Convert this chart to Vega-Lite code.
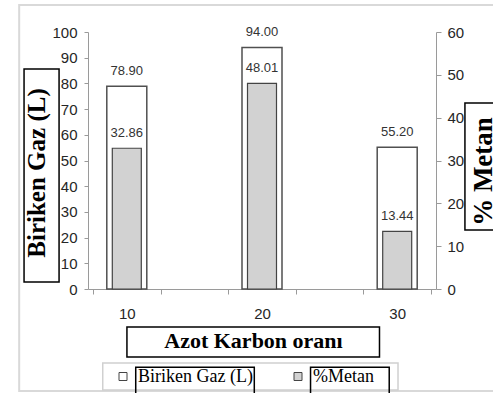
{
  "$schema": "https://vega.github.io/schema/vega-lite/v6.json",
  "width": 348,
  "height": 257,
  "autosize": "none",
  "padding": {"left": 88, "top": 32, "right": 57, "bottom": 104},
  "background": "white",
  "config": {"view": {"stroke": null}},
  "data": {
    "values": [
      {"oran": 10, "gaz": 78.90, "metan": 32.86},
      {"oran": 20, "gaz": 94.00, "metan": 48.01},
      {"oran": 30, "gaz": 55.20, "metan": 13.44}
    ]
  },
  "layer": [
    {
      "encoding": {
        "x": {
          "field": "oran",
          "type": "quantitative",
          "scale": {"domain": [7.5, 32.5], "nice": false, "zero": false},
          "axis": {
            "values": [7.5, 10, 12.5, 17.5, 20, 22.5, 27.5, 30, 32.5],
            "labelExpr": "datum.value % 10 === 0 ? datum.label : ''",
            "tickOpacity": {"condition": {"test": "datum.value % 10 === 0", "value": 0}, "value": 1},
            "tickSize": 5,
            "tickColor": "#9a9a9a",
            "domainColor": "#9a9a9a",
            "labelFont": "Liberation Sans",
            "labelFontSize": 15,
            "labelColor": "#262626",
            "labelPadding": 12,
            "labelOverlap": false,
            "grid": false,
            "title": "Azot Karbon oranı",
            "titleFont": "Liberation Serif",
            "titleFontSize": 22,
            "titleFontWeight": "bold",
            "titleColor": "black",
            "titleX": 165,
            "titleY": 58,
            "titleAlign": "center",
            "titleBaseline": "alphabetic"
          }
        },
        "y": {
          "field": "gaz",
          "type": "quantitative",
          "scale": {"domain": [0, 100], "nice": false},
          "axis": {
            "orient": "left",
            "values": [0, 10, 20, 30, 40, 50, 60, 70, 80, 90, 100],
            "tickSize": 4,
            "tickColor": "#9a9a9a",
            "domainColor": "#9a9a9a",
            "labelFont": "Liberation Sans",
            "labelFontSize": 15,
            "labelColor": "#262626",
            "labelPadding": 7,
            "labelOverlap": false,
            "grid": false,
            "title": "Biriken Gaz (L)",
            "titleFont": "Liberation Serif",
            "titleFontSize": 25,
            "titleFontWeight": "bold",
            "titleColor": "black",
            "titleAngle": -90,
            "titleX": -44,
            "titleY": 140.5,
            "titleAlign": "center",
            "titleBaseline": "alphabetic"
          }
        }
      },
      "layer": [
        {
          "mark": {"type": "bar", "width": 40, "stroke": "#505050", "strokeWidth": 1.5},
          "encoding": {
            "color": {
              "datum": "Biriken Gaz (L)",
              "type": "nominal",
              "scale": {"domain": ["Biriken Gaz (L)", "%Metan"], "range": ["#ffffff", "#d2d2d2"]},
              "legend": {
                "orient": "none",
                "legendX": 26,
                "legendY": 335.5,
                "direction": "horizontal",
                "title": null,
                "padding": 0,
                "symbolType": "square",
                "symbolSize": 64,
                "symbolStrokeColor": "#444444",
                "symbolStrokeWidth": 1,
                "labelFont": "Liberation Serif",
                "labelFontSize": 18,
                "labelColor": "black",
                "labelOffset": 6,
                "labelLimit": 300,
                "columnPadding": 36
              }
            }
          }
        },
        {
          "mark": {"type": "text", "font": "Liberation Sans", "fontSize": 13, "color": "#333333", "baseline": "alphabetic", "align": "center", "dy": -11},
          "encoding": {"text": {"field": "gaz", "type": "quantitative", "format": ".2f"}}
        }
      ]
    },
    {
      "encoding": {
        "x": {"field": "oran", "type": "quantitative", "title": "Azot Karbon oranı"},
        "y": {
          "field": "metan",
          "type": "quantitative",
          "scale": {"domain": [0, 60], "nice": false},
          "axis": {
            "orient": "right",
            "values": [0, 10, 20, 30, 40, 50, 60],
            "tickSize": 5,
            "tickColor": "#9a9a9a",
            "domainColor": "#9a9a9a",
            "labelFont": "Liberation Sans",
            "labelFontSize": 15,
            "labelColor": "#262626",
            "labelPadding": 6,
            "grid": false,
            "title": "% Metan",
            "titleFont": "Liberation Serif",
            "titleFontSize": 27,
            "titleFontWeight": "bold",
            "titleColor": "black",
            "titleAngle": -90,
            "titleX": 55,
            "titleY": 139,
            "titleAlign": "center",
            "titleBaseline": "alphabetic"
          }
        }
      },
      "layer": [
        {
          "mark": {"type": "bar", "width": 29, "stroke": "#444444", "strokeWidth": 1.2},
          "encoding": {"color": {"datum": "%Metan", "type": "nominal"}}
        },
        {
          "mark": {"type": "text", "font": "Liberation Sans", "fontSize": 13, "color": "#333333", "baseline": "alphabetic", "align": "center", "dy": -11},
          "encoding": {"text": {"field": "metan", "type": "quantitative", "format": ".2f"}}
        }
      ]
    },
    {
      "data": {"values": [{"id": 1}]},
      "layer": [
        {
          "mark": {"type": "rect", "filled": false, "stroke": "#d9d9d9", "strokeWidth": 2},
          "encoding": {
            "x": {"datum": 2.04, "type": "quantitative"},
            "x2": {"datum": 37.5},
            "y": {"datum": 110.5, "type": "quantitative", "scale": {"domain": [0, 100], "nice": false}, "axis": null},
            "y2": {"datum": -39.7}
          }
        },
        {
          "mark": {"type": "rect", "filled": false, "stroke": "#d0d0d0", "strokeWidth": 1.5},
          "encoding": {
            "x": {"datum": 8.22, "type": "quantitative"},
            "x2": {"datum": 30.06},
            "y": {"datum": -28.8, "type": "quantitative", "scale": {"domain": [0, 100], "nice": false}, "axis": null},
            "y2": {"datum": -39.3}
          }
        },
        {
          "mark": {"type": "rect", "filled": false, "stroke": "black", "strokeWidth": 1.5},
          "encoding": {
            "x": {"datum": 2.4, "type": "quantitative"},
            "x2": {"datum": 4.99},
            "y": {"datum": 85.6, "type": "quantitative", "scale": {"domain": [0, 100], "nice": false}, "axis": null},
            "y2": {"datum": 2.72}
          }
        },
        {
          "mark": {"type": "rect", "filled": false, "stroke": "black", "strokeWidth": 1.5},
          "encoding": {
            "x": {"datum": 10.01, "type": "quantitative"},
            "x2": {"datum": 28.69},
            "y": {"datum": -14.8, "type": "quantitative", "scale": {"domain": [0, 100], "nice": false}, "axis": null},
            "y2": {"datum": -26.5}
          }
        },
        {
          "mark": {"type": "rect", "filled": false, "stroke": "black", "strokeWidth": 1.5},
          "encoding": {
            "x": {"datum": 35.01, "type": "quantitative"},
            "x2": {"datum": 37.5},
            "y": {"datum": 72.4, "type": "quantitative", "scale": {"domain": [0, 100], "nice": false}, "axis": null},
            "y2": {"datum": 22.96}
          }
        },
        {
          "mark": {"type": "rect", "filled": false, "stroke": "black", "strokeWidth": 1.5},
          "encoding": {
            "x": {"datum": 10.66, "type": "quantitative"},
            "x2": {"datum": 19.43},
            "y": {"datum": -30.4, "type": "quantitative", "scale": {"domain": [0, 100], "nice": false}, "axis": null},
            "y2": {"datum": -42}
          }
        },
        {
          "mark": {"type": "rect", "filled": false, "stroke": "black", "strokeWidth": 1.5},
          "encoding": {
            "x": {"datum": 23.59, "type": "quantitative"},
            "x2": {"datum": 29.41},
            "y": {"datum": -30.4, "type": "quantitative", "scale": {"domain": [0, 100], "nice": false}, "axis": null},
            "y2": {"datum": -42}
          }
        }
      ]
    }
  ],
  "resolve": {"scale": {"y": "independent"}}
}
